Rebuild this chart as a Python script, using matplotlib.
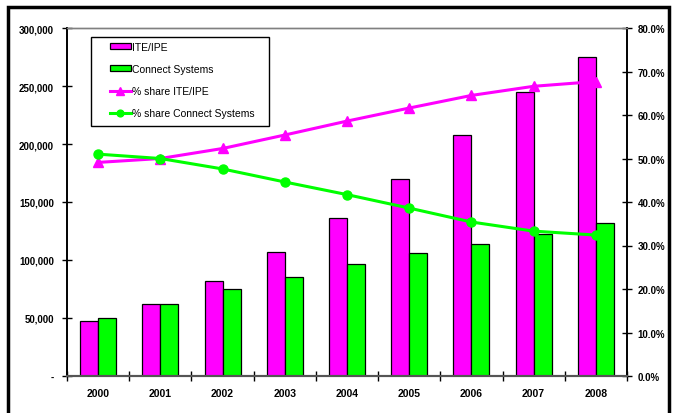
import matplotlib
matplotlib.use("Agg")
import matplotlib.pyplot as plt
import numpy as np
from matplotlib.patches import Rectangle
from matplotlib.ticker import FuncFormatter, MultipleLocator, FixedLocator

plt.rcParams['font.family'] = ['Liberation Sans', 'DejaVu Sans']

years = ['2000', '2001', '2002', '2003', '2004', '2005', '2006', '2007', '2008']
ite_ipe = [47500, 62000, 82000, 106600, 136000, 169500, 208000, 244500, 274600]
connect = [49700, 62000, 74700, 85600, 96300, 106000, 114000, 122700, 131600]
share_ite = [49.1, 50.0, 52.3, 55.4, 58.6, 61.6, 64.5, 66.6, 67.7]
share_connect = [51.0, 50.0, 47.6, 44.6, 41.7, 38.6, 35.4, 33.3, 32.4]

W, H = 674, 414
fig = plt.figure(figsize=(W / 100, H / 100), dpi=100)

# outer frame
fig.patches.append(Rectangle((8 / W, -0.05), 661 / W, (H - 8) / H + 0.05,
                             transform=fig.transFigure, fill=False,
                             edgecolor='black', linewidth=2.5, zorder=0))

ax = fig.add_axes([67 / W, (H - 377) / H, 560 / W, 348 / H])
ax2 = ax.twinx()
ax.set_zorder(1)
ax2.set_zorder(2)
ax.patch.set_visible(False)
ax2.patch.set_visible(False)

x = np.arange(len(years))
bw = 0.29
magenta = '#FF00FF'
green = '#00FF00'
b1 = ax.bar(x - bw / 2, ite_ipe, bw, color=magenta, edgecolor='black', linewidth=0.9, label='ITE/IPE')
b2 = ax.bar(x + bw / 2, connect, bw, color=green, edgecolor='black', linewidth=0.9, label='Connect Systems')

l1, = ax2.plot(x, share_ite, color=magenta, linewidth=2.2, marker='^', markersize=7, label='% share ITE/IPE')
l2, = ax2.plot(x, share_connect, color=green, linewidth=2.2, marker='o', markersize=6.5, label='% share Connect Systems')

ax.set_xlim(-0.5, len(years) - 0.5)
ax.set_ylim(0, 300000)
ax2.set_ylim(0, 80)

ax.yaxis.set_major_locator(MultipleLocator(50000))
ax.yaxis.set_major_formatter(FuncFormatter(lambda v, p: '-' if v == 0 else f'{int(v):,}'))
ax2.yaxis.set_major_locator(MultipleLocator(10))
ax2.yaxis.set_major_formatter(FuncFormatter(lambda v, p: f'{v:.1f}%'))

ax.set_xticks(x)
ax.set_xticklabels(years)
ax.xaxis.set_minor_locator(FixedLocator(np.arange(-0.5, len(years), 1.0)))
ax.tick_params(axis='x', which='major', length=0, pad=9, labelsize=7.5)
ax.tick_params(axis='x', which='minor', length=7, direction='inout', width=1, color='black')
ax.tick_params(axis='y', length=7, direction='inout', width=1, labelsize=7, pad=6)
ax2.tick_params(axis='y', length=7, direction='inout', width=1, labelsize=7, pad=4)
ax2.tick_params(axis='x', length=0)
for lab in ax.get_xticklabels() + ax.get_yticklabels() + ax2.get_yticklabels():
    lab.set_fontweight('bold')

for a in (ax, ax2):
    a.spines['top'].set_color('#808080')
    a.spines['top'].set_linewidth(1.0)
    a.spines['bottom'].set_color('#555555')
    a.spines['bottom'].set_linewidth(1.5)
    a.spines['left'].set_color('black')
    a.spines['left'].set_linewidth(1.2)
    a.spines['right'].set_color('black')
    a.spines['right'].set_linewidth(1.2)

# legend box
fig.patches.append(Rectangle((91 / W, 1 - 127 / H), 178 / W, 89 / H,
                             transform=fig.transFigure, facecolor='white',
                             edgecolor='black', linewidth=1.0, zorder=3))
leg = fig.legend([b1, b2, l1, l2],
                 ['ITE/IPE', 'Connect Systems', '% share ITE/IPE', '% share Connect Systems'],
                 loc='upper left', bbox_to_anchor=(110 / W, 1 - 43 / H),
                 frameon=False, borderpad=0, borderaxespad=0,
                 handlelength=2.0, handleheight=0.5, handletextpad=0.15,
                 labelspacing=1.15, markerscale=0.75, prop={'size': 7.5})
leg.set_zorder(4)

fig.savefig('out.png', dpi=100)
